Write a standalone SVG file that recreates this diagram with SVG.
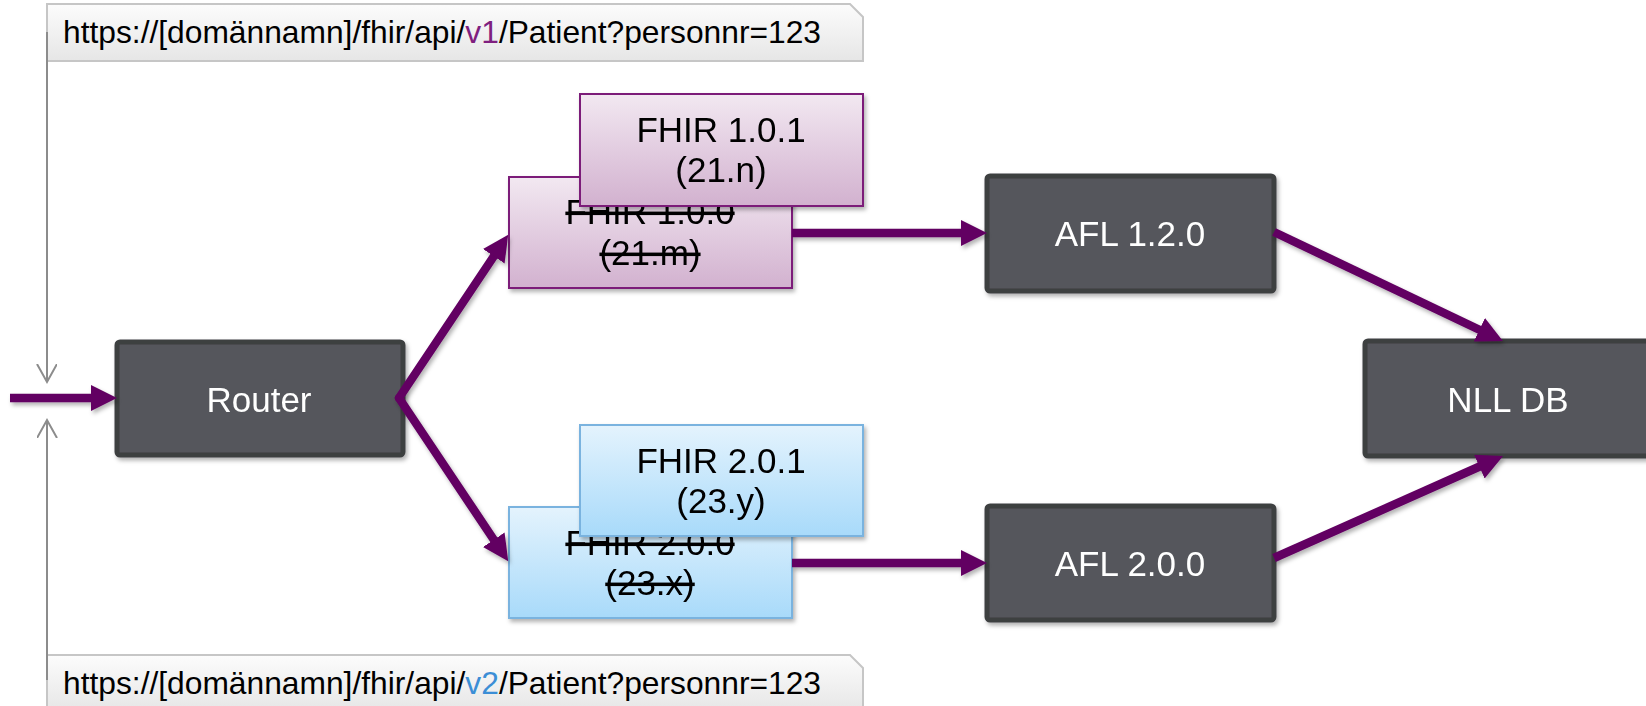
<svg xmlns="http://www.w3.org/2000/svg" width="1646" height="706" viewBox="0 0 1646 706">
  <defs>
    <linearGradient id="gPurple" x1="0" y1="0" x2="0" y2="1">
      <stop offset="0" stop-color="#f2e8f1"/>
      <stop offset="1" stop-color="#d2b1cf"/>
    </linearGradient>
    <linearGradient id="gBlue" x1="0" y1="0" x2="0" y2="1">
      <stop offset="0" stop-color="#e4f3fd"/>
      <stop offset="1" stop-color="#a8dafa"/>
    </linearGradient>
    <linearGradient id="gGrey" x1="0" y1="0" x2="0" y2="1">
      <stop offset="0" stop-color="#fcfcfc"/>
      <stop offset="1" stop-color="#e6e6e6"/>
    </linearGradient>
    <filter id="shadow" x="-10%" y="-10%" width="130%" height="140%">
      <feDropShadow dx="2" dy="3" stdDeviation="2" flood-color="#000" flood-opacity="0.3"/>
    </filter>
    <marker id="arrow" markerUnits="userSpaceOnUse" markerWidth="28" markerHeight="28" refX="4" refY="13" orient="auto">
      <path d="M0,0 L26,13 L0,26 z" fill="#620062"/>
    </marker>
    <marker id="open" markerUnits="userSpaceOnUse" markerWidth="24" markerHeight="24" refX="18" refY="10" orient="auto">
      <path d="M0,0 L18,10 L0,20" fill="none" stroke="#8c8c8c" stroke-width="2"/>
    </marker>
    <style>
      .dark rect { fill: #55565b; stroke: #3e3f41; stroke-width: 5; }
      .purple rect { fill: url(#gPurple); stroke: #7b1f79; stroke-width: 2; }
      .blue rect { fill: url(#gBlue); stroke: #7ab3df; stroke-width: 2; }
      .url path { fill: url(#gGrey); stroke: #c6c6c6; stroke-width: 2; }
      text { font-family: "Liberation Sans", Arial, sans-serif; font-size: 35px; text-anchor: middle; }
      .dark text { fill: #ffffff; }
      .purple text, .blue text { fill: #000000; }
      .url text { font-size: 32px; text-anchor: start; fill: #000000; }
      .strike { text-decoration: line-through; }
      .conn line { stroke: #620062; stroke-width: 8.5; fill: none; }
      .guide line { stroke: #8c8c8c; stroke-width: 2; }
    </style>
  </defs>

  <g id="url-v1" class="url">
    <path d="M47,4 H850 L863,17 V61 H47 Z"/>
    <text x="63" y="43" textLength="758" lengthAdjust="spacingAndGlyphs">https://[domännamn]/fhir/api/<tspan fill="#7f1f7f">v1</tspan>/Patient?personnr=123</text>
  </g>
  <g id="url-v2" class="url">
    <path d="M47,655 H850 L863,668 V712 H47 Z"/>
    <text x="63" y="694" textLength="758" lengthAdjust="spacingAndGlyphs">https://[domännamn]/fhir/api/<tspan fill="#3b8ed6">v2</tspan>/Patient?personnr=123</text>
  </g>

  <g id="guides" class="guide">
    <line x1="47" y1="32" x2="47" y2="382" marker-end="url(#open)"/>
    <line x1="47" y1="680" x2="47" y2="420" marker-end="url(#open)"/>
  </g>

  <g id="router" class="dark" filter="url(#shadow)">
    <rect x="117" y="342" width="286" height="113" rx="3"/>
    <text x="259" y="412">Router</text>
  </g>

  <g id="fhir-100" class="purple" filter="url(#shadow)">
    <rect x="509" y="177" width="283" height="111"/>
    <text x="650" y="224" class="strike">FHIR 1.0.0</text>
    <text x="650" y="265" class="strike">(21.m)</text>
  </g>
  <g id="fhir-101" class="purple" filter="url(#shadow)">
    <rect x="580" y="94" width="283" height="112"/>
    <text x="721" y="142">FHIR 1.0.1</text>
    <text x="721" y="182">(21.n)</text>
  </g>

  <g id="fhir-200" class="blue" filter="url(#shadow)">
    <rect x="509" y="507" width="283" height="111"/>
    <text x="650" y="555" class="strike">FHIR 2.0.0</text>
    <text x="650" y="595" class="strike">(23.x)</text>
  </g>
  <g id="fhir-201" class="blue" filter="url(#shadow)">
    <rect x="580" y="425" width="283" height="111"/>
    <text x="721" y="473">FHIR 2.0.1</text>
    <text x="721" y="513">(23.y)</text>
  </g>

  <g id="afl-120" class="dark" filter="url(#shadow)">
    <rect x="987" y="176" width="287" height="115" rx="3"/>
    <text x="1130" y="246">AFL 1.2.0</text>
  </g>
  <g id="afl-200" class="dark" filter="url(#shadow)">
    <rect x="987" y="506" width="287" height="114" rx="3"/>
    <text x="1130" y="576">AFL 2.0.0</text>
  </g>
  <g id="nll-db" class="dark" filter="url(#shadow)">
    <rect x="1365" y="341" width="287" height="115" rx="3"/>
    <text x="1508" y="412">NLL DB</text>
  </g>

  <g id="connectors" class="conn" filter="url(#shadow)">
    <line x1="10" y1="398" x2="95" y2="398" marker-end="url(#arrow)"/>
    <line x1="399" y1="398" x2="496" y2="253" stroke-linecap="round" marker-end="url(#arrow)"/>
    <line x1="399" y1="398" x2="496" y2="543" stroke-linecap="round" marker-end="url(#arrow)"/>
    <line x1="792" y1="233" x2="965" y2="233" marker-end="url(#arrow)"/>
    <line x1="792" y1="563" x2="965" y2="563" marker-end="url(#arrow)"/>
    <line x1="1274" y1="232" x2="1483" y2="331.5" marker-end="url(#arrow)"/>
    <line x1="1274" y1="558" x2="1483" y2="465" marker-end="url(#arrow)"/>
  </g>
</svg>
